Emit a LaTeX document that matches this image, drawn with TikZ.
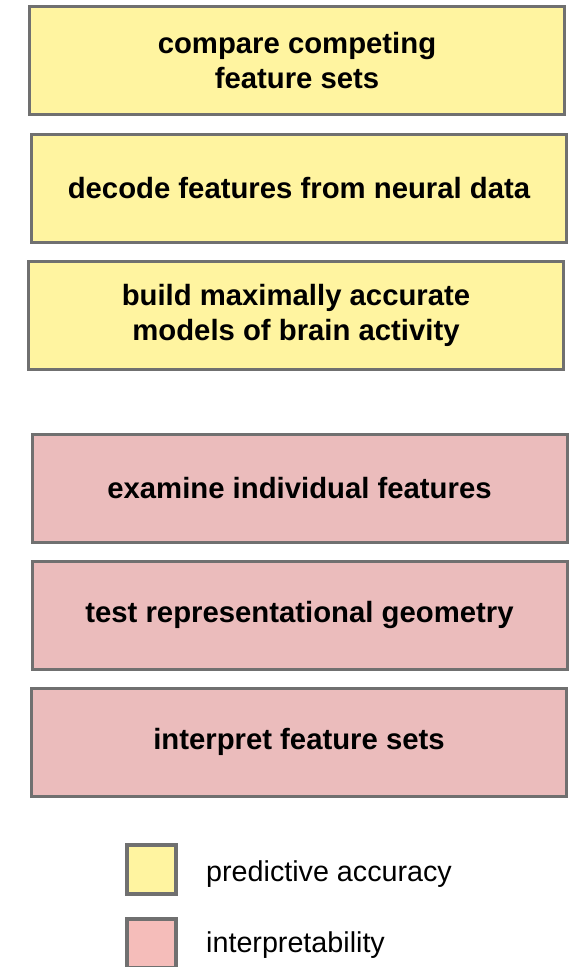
\documentclass[tikz,border=0pt]{standalone}
\usepackage{fontspec}
\setmainfont{Liberation Sans}
\definecolor{predfill}{RGB}{255,244,160}
\definecolor{interpfill}{RGB}{235,188,188}
\definecolor{interpkey}{RGB}{245,189,186}
\definecolor{boxline}{RGB}{112,112,112}
\tikzset{
  goalbox/.style={draw=boxline, line width=3pt, rectangle, minimum width=535pt,
    minimum height=108pt, inner sep=0pt, align=center,
    font=\fontsize{29.3}{35}\selectfont\bfseries},
  predbox/.style={goalbox, fill=predfill},
  interpbox/.style={goalbox, fill=interpfill},
  keybox/.style={draw=boxline, line width=3.5pt, rectangle, minimum width=49pt,
    minimum height=49pt, inner sep=0pt},
  keytext/.style={anchor=base west, inner sep=0pt,
    font=\fontsize{28.7}{34}\selectfont}
}
\begin{document}
\begin{tikzpicture}[x=1pt, y=-1pt]
\useasboundingbox (0,0) rectangle (570,967);
% goals that rest on predictive accuracy
\node[predbox] (compare) at (297,60.5) {compare competing\\feature sets};
\node[predbox] (decode) at (299,188) {decode features from neural data};
\node[predbox] (build) at (296,315.5) {build maximally accurate\\models of brain activity};
% goals that rest on interpretability
\node[interpbox] (examine) at (299.5,488) {examine individual features};
\node[interpbox] (geometry) at (299.5,615) {test representational geometry};
\node[interpbox] (interpret) at (299,742) {interpret feature sets};
% legend
\node[keybox, fill=predfill] (keypred) at (151.5,869.5) {};
\node[keybox, fill=interpkey] (keyinterp) at (151.5,943.5) {};
\node[keytext] (labpred) at (206,881) {predictive accuracy};
\node[keytext] (labinterp) at (206,952) {interpretability};
\end{tikzpicture}
\end{document}
